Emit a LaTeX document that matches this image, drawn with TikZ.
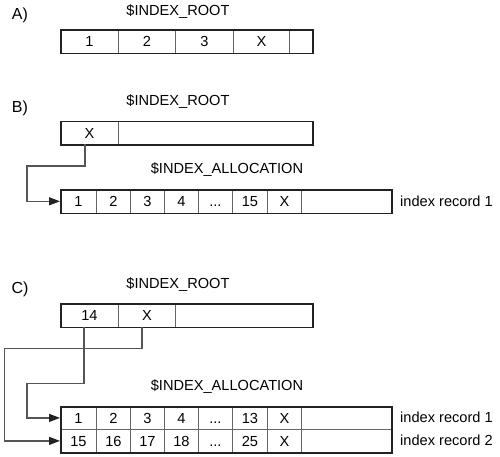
\documentclass[tikz,border=0pt]{standalone}
\usepackage{fontspec}
\setmainfont{Liberation Sans}
\usetikzlibrary{arrows.meta}
\definecolor{frameC}{HTML}{222222}
\definecolor{divC}{HTML}{666666}
\definecolor{connC}{HTML}{555555}
\newcommand\celldots{...}
\begin{document}
\begin{tikzpicture}[x=1pt,y=-1pt,
  txt/.style={font=\fontsize{14.6}{17}\selectfont, inner sep=0pt},
  plbl/.style={font=\fontsize{16}{19}\selectfont, inner sep=0pt},
  cell/.style={draw=divC, line width=0.8pt, minimum height=23.4pt, inner sep=0pt,
    text height=10.4pt, text depth=0pt,
    anchor=north west, font=\fontsize{14.6}{17}\selectfont},
  frame/.style={draw=frameC, line width=1.7pt, inner sep=0pt, anchor=north west},
  conn/.style={draw=connC, line width=1.2pt, -{Triangle[length=11pt,width=8pt,color=frameC]}}
]
\useasboundingbox (0,0) rectangle (500,457);

% ---------- A ----------
\node[plbl] (alab) at (20,15) {A)};
\node[txt] (atitle) at (178,12) {\$INDEX\_ROOT};
\foreach \x/\w/\t [count=\i] in {60/58/1,118/57/2,175/58/3,233/56/X,289/23/{}}
  \node[cell, minimum width=\w pt] (a\i) at (\x,29.3) {\t};
\node[frame, minimum width=252pt, minimum height=23.4pt] (aframe) at (60,29.3) {};

% ---------- B ----------
\node[plbl] (blab) at (20,108) {B)};
\node[txt] (btitle) at (178,102) {\$INDEX\_ROOT};
\foreach \x/\w/\t [count=\i] in {60/58/X,118/194/{}}
  \node[cell, minimum width=\w pt] (b\i) at (\x,120.8) {\t};
\node[frame, minimum width=252pt, minimum height=23.4pt] (bframe) at (60,120.8) {};

\node[txt] (batitle) at (227,170) {\$INDEX\_ALLOCATION};
\foreach \x/\w/\t [count=\i] in {60/36/1,96/34/2,130/34/3,164/34/4,198/34/\celldots,232/35/15,267/34/X,301/90/{}}
  \node[cell, minimum width=\w pt] (ba\i) at (\x,189.2) {\t};
\node[frame, minimum width=331pt, minimum height=23.4pt] (baframe) at (60,189.2) {};
\node[txt, anchor=west] (brec) at (400,201) {index record 1};

\coordinate (bk) at (27,166);
\coordinate (bs) at (85,144.3);
\draw[conn] (bs) |- (bk) |- (ba1.west);

% ---------- C ----------
\node[plbl] (clab) at (20,289) {C)};
\node[txt] (ctitle) at (178,285) {\$INDEX\_ROOT};
\foreach \x/\w/\t [count=\i] in {60/58/14,118/57/X,175/137/{}}
  \node[cell, minimum width=\w pt] (c\i) at (\x,303.3) {\t};
\node[frame, minimum width=252pt, minimum height=23.4pt] (cframe) at (60,303.3) {};

\node[txt] (catitle) at (227,387) {\$INDEX\_ALLOCATION};
\foreach \x/\w/\t [count=\i] in {60/36/1,96/34/2,130/34/3,164/34/4,198/34/\celldots,232/35/13,267/34/X,301/90/{}}
  \node[cell, minimum width=\w pt, minimum height=23pt] (ca\i) at (\x,406) {\t};
\foreach \x/\w/\t [count=\i] in {60/36/15,96/34/16,130/34/17,164/34/18,198/34/\celldots,232/35/25,267/34/X,301/90/{}}
  \node[cell, minimum width=\w pt, minimum height=23pt] (cb\i) at (\x,429) {\t};
\node[frame, minimum width=331pt, minimum height=46pt] (caframe) at (60,406) {};
\node[txt, anchor=west] (crec1) at (400,417.5) {index record 1};
\node[txt, anchor=west] (crec2) at (400,440.5) {index record 2};

\coordinate (cs1) at (84,326.7);
\coordinate (ck1) at (27,383.3);
\coordinate (cs2) at (142,326.7);
\coordinate (ck2) at (4.3,348.3);
\draw[conn] (cs1) |- (ck1) |- (ca1.west);
\draw[conn] (cs2) |- (ck2) |- (cb1.west);
\end{tikzpicture}
\end{document}
